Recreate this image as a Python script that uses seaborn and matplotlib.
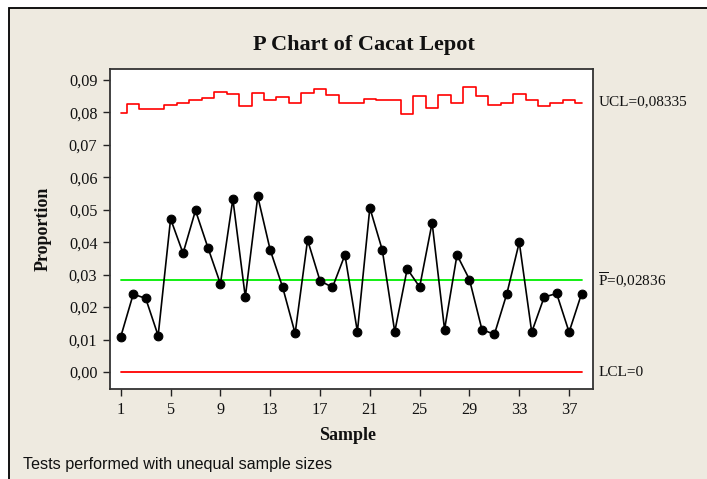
import numpy as np
import pandas as pd
import matplotlib
matplotlib.use("Agg")
import matplotlib.pyplot as plt
from matplotlib.patches import Rectangle
import seaborn as sns

# ---- data ----
samples = list(range(1, 39))
proportion = [0.0109, 0.0240, 0.0227, 0.0112, 0.0472, 0.0366, 0.0498, 0.0383,
              0.0272, 0.0533, 0.0231, 0.0541, 0.0376, 0.0261, 0.0119, 0.0407,
              0.0281, 0.0261, 0.0361, 0.0124, 0.0506, 0.0376, 0.0124, 0.0318,
              0.0262, 0.0460, 0.0131, 0.0361, 0.0285, 0.0131, 0.0116, 0.0241,
              0.0400, 0.0123, 0.0231, 0.0242, 0.0123, 0.0241]
ucl = [0.0799, 0.0827, 0.0811, 0.0811, 0.0824, 0.0830, 0.0837, 0.0845,
       0.0864, 0.0857, 0.0820, 0.0861, 0.0837, 0.0849, 0.0829, 0.0860,
       0.0871, 0.0855, 0.0829, 0.0829, 0.0842, 0.0838, 0.0838, 0.0796,
       0.0850, 0.0815, 0.0854, 0.0830, 0.0877, 0.0850, 0.0823, 0.0830,
       0.0857, 0.0838, 0.0820, 0.0830, 0.0838, 0.0830]
p_bar = 0.02836
lcl = 0.0
x_ticks = [1, 5, 9, 13, 17, 21, 25, 29, 33, 37]
y_ticks = [0.00, 0.01, 0.02, 0.03, 0.04, 0.05, 0.06, 0.07, 0.08, 0.09]
title = "P Chart of Cacat Lepot"
ucl_label = "UCL=0,08335"
center_label = r"$\overline{\mathrm{P}}$=0,02836"
lcl_label = "LCL=0"
footnote = "Tests performed with unequal sample sizes"

df = pd.DataFrame({"Sample": samples, "Proportion": proportion, "UCL": ucl,
                   "CL": [p_bar] * len(samples), "LCL": [lcl] * len(samples)})

sns.set_theme(style="white")
plt.rcParams["font.family"] = ["Liberation Serif", "DejaVu Serif"]
plt.rcParams["mathtext.fontset"] = "custom"
plt.rcParams["mathtext.rm"] = "Liberation Serif"
plt.rcParams["mathtext.it"] = "Liberation Serif:italic"
plt.rcParams["mathtext.bf"] = "Liberation Serif:bold"

W, H = 707, 479
fig = plt.figure(figsize=(W / 100, H / 100), dpi=100, facecolor="white")
bg = "#EEEAE0"
fig.patches.append(Rectangle((9 / W, -0.02), 1.05, 1 - 8 / H + 0.02,
                             transform=fig.transFigure, facecolor=bg,
                             edgecolor="black", linewidth=1.3, zorder=-10))

ax = fig.add_axes([110 / W, 1 - 389 / H, (592.5 - 110) / W, (389 - 69) / H])
ax.set_zorder(5)
ax.set_facecolor("white")

sns.lineplot(data=df, x="Sample", y="UCL", ax=ax, color="#FF0000", lw=1.2,
             drawstyle="steps-mid")
sns.lineplot(data=df, x="Sample", y="CL", ax=ax, color="#00EE00", lw=1.3)
sns.lineplot(data=df, x="Sample", y="LCL", ax=ax, color="#FF0000", lw=1.3)
sns.lineplot(data=df, x="Sample", y="Proportion", ax=ax, color="black", lw=1.2,
             marker="o", markersize=6.3, markeredgecolor="black",
             markerfacecolor="black")

ax.set_xlim(0.134, 38.88)
ax.set_ylim(-0.00524, 0.0934)
ax.set_xticks(x_ticks)
ax.set_xticklabels([str(t) for t in x_ticks])
ax.set_yticks(y_ticks)
ax.set_yticklabels([f"{t:.2f}".replace(".", ",") for t in y_ticks])
ax.tick_params(axis="both", direction="out", length=5, width=1, color="#222222",
               labelsize=11.7, labelcolor="#111111", pad=4, bottom=True, left=True)
for s in ax.spines.values():
    s.set_color("#333333")
    s.set_linewidth(1.3)

ax.set_xlabel("Sample", fontsize=13, fontweight="bold", color="#111111", va="center")
ax.xaxis.set_label_coords((348 - 110) / 482.5, (389 - 436) / 320)
ax.set_ylabel("Proportion", fontsize=13, fontweight="bold", color="#111111", va="center")
ax.yaxis.set_label_coords((43 - 110) / 482.5, 0.5)

trans = ax.get_yaxis_transform()
for val, lab in [(0.08335, ucl_label), (p_bar, center_label), (lcl, lcl_label)]:
    ax.text(1.012, val, lab, transform=trans, ha="left", va="center",
            fontsize=11, color="#111111", clip_on=False)

fig.text(364 / W, 1 - 45 / H, title, ha="center", va="center", fontsize=16,
         fontweight="bold", color="#111111")
fig.text(23 / W, 1 - 464 / H, footnote, ha="left", va="center", fontsize=11.6,
         family=["Liberation Sans", "DejaVu Sans"], color="#111111")

fig.savefig("out.png", dpi=100, facecolor=fig.get_facecolor())
